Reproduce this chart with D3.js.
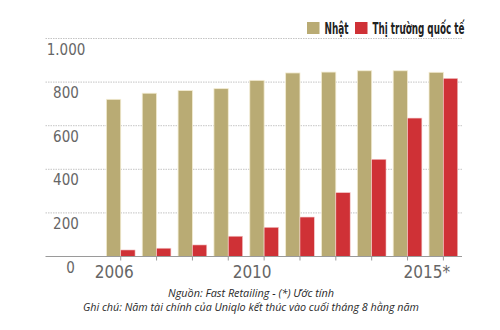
<!DOCTYPE html>
<html><head><meta charset="utf-8">
<script src="https://cdn.jsdelivr.net/npm/d3@7"></script>
<style>
body{margin:0;background:#fff;}
svg{display:block;}
</style></head>
<body><svg id="c" width="500" height="330"></svg>
<script>
const years = ["2006","2007","2008","2009","2010","2011","2012","2013","2014","2015"];
const yearLabels = {"2006":"2006","2010":"2010","2015":"2015*"};
const japan = [721,749,761,770,808,842,846,852,852,845];
const intl = [30,38,53,93,134,181,293,446,635,817];
const yTicks = [0,200,400,600,800,1000];
const seriesNames = ["Nhật","Thị trường quốc tế"];
const colors = ["#b9ab74","#cf3136"];

const svg = d3.select("#c");
const narrow = "'Liberation Sans Narrow','DejaVu Sans Condensed',sans-serif";

const y = d3.scaleLinear().domain([0,1000]).range([256.5,38.5]);
const x = d3.scaleBand().domain(years).range([102.8,461.3]).paddingInner(0.2).paddingOuter(0.1);
const xs = d3.scaleBand().domain([0,1]).range([0,x.bandwidth()]);

// fit a text element horizontally into a target width by scaling
function fitX(sel, x0, yb, target){
  const w = sel.node().getComputedTextLength();
  const k = target / w;
  sel.attr("x",0).attr("y",0).attr("transform",`translate(${x0},${yb}) scale(${k},1)`);
}

// gridlines
svg.append("g").selectAll("line").data(yTicks.filter(d=>d>0)).join("line")
  .attr("x1",45.5).attr("x2",462).attr("y1",d=>y(d)).attr("y2",d=>y(d))
  .attr("stroke","#b5b5b5").attr("stroke-width",0.8).attr("stroke-dasharray","1.5,1");

// tick labels
const fmt = d=> d===1000 ? "1.000" : String(d);
svg.append("g").selectAll("text").data(yTicks).join("text")
  .attr("x",d=> d===0 ? 70.5 : 66).attr("y",d=>y(d)+16)
  .attr("text-anchor","middle")
  .attr("font-family",narrow).attr("font-size",15).attr("fill","#666")
  .text(fmt);

// bars
const groups = svg.append("g").selectAll("g").data(years).join("g")
  .attr("transform",d=>`translate(${x(d)},0)`);
groups.append("rect")
  .attr("x",xs(0)).attr("width",xs.bandwidth())
  .attr("y",(d,i)=>y(japan[i])).attr("height",(d,i)=>y(0)-y(japan[i]))
  .attr("fill",colors[0]).attr("stroke","#f3ecd2").attr("stroke-width",0.8);
groups.append("rect")
  .attr("x",xs(1)).attr("width",xs.bandwidth())
  .attr("y",(d,i)=>y(intl[i])).attr("height",(d,i)=>y(0)-y(intl[i]))
  .attr("fill",colors[1]).attr("stroke","#f4c9c9").attr("stroke-width",0.6);

// axis
svg.append("line").attr("x1",45.5).attr("x2",462).attr("y1",y(0)).attr("y2",y(0))
  .attr("stroke","#9a9a9a").attr("stroke-width",1);
svg.append("g").selectAll("line").data(years).join("line")
  .attr("x1",d=>x(d)+xs(1)).attr("x2",d=>x(d)+xs(1))
  .attr("y1",y(0)).attr("y2",y(0)+4).attr("stroke","#9a9a9a").attr("stroke-width",1);

svg.append("g").selectAll("text").data(years.filter(d=>yearLabels[d])).join("text")
  .attr("x",d=>x(d)+xs(1)-(d==="2015"?16.5:d==="2010"?12:6.5))
  .attr("y",278)
  .attr("text-anchor","middle")
  .attr("font-family",narrow).attr("font-size",17).attr("fill","#666")
  .text(d=>yearLabels[d]);

// legend
const lg = svg.append("g");
const legX = [307,355];
const legW = [24,92];
seriesNames.forEach((n,i)=>{
  lg.append("rect").attr("x",legX[i]).attr("y",22).attr("width",12.5).attr("height",12).attr("fill",colors[i]);
  const t = lg.append("text")
    .attr("font-family",narrow).attr("font-weight","bold").attr("font-size",15).attr("fill","#222")
    .text(n);
  fitX(t, legX[i]+17.5, 33.5, legW[i]);
});

// notes
svg.append("text").attr("x",251).attr("y",297).attr("text-anchor","middle")
  .attr("font-family","'Open Sans',sans-serif").attr("font-style","italic").attr("font-size",11.5).attr("fill","#2a2a2a")
  .attr("textLength",166).attr("lengthAdjust","spacingAndGlyphs")
  .text("Nguồn: Fast Retailing - (*) Ước tính");
svg.append("text").attr("x",251).attr("y",310.5).attr("text-anchor","middle")
  .attr("font-family","'Open Sans',sans-serif").attr("font-style","italic").attr("font-size",11.5).attr("fill","#2a2a2a")
  .attr("textLength",336).attr("lengthAdjust","spacingAndGlyphs")
  .text("Ghi chú: Năm tài chính của Uniqlo kết thúc vào cuối tháng 8 hằng năm");
</script></body></html>
